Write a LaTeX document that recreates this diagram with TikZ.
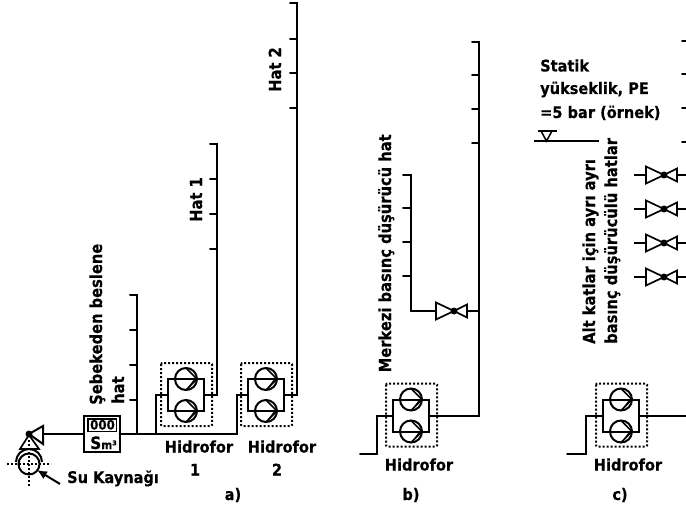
\documentclass[tikz,border=0pt]{standalone}
\usepackage{fontspec}
\setmainfont{DejaVu Sans Bold}[FakeBold=0.35,FakeStretch=0.91]
\newfontfamily\rotfont{DejaVu Sans Bold}[FakeBold=0.35,FakeStretch=0.88]
\usetikzlibrary{arrows.meta}
\tikzset{
  pipe/.style={line width=2pt,line cap=round,line join=miter},
  dotbox/.style={line width=2pt,dash pattern=on 2pt off 2pt},
  dotline/.style={line width=1.7pt,dash pattern=on 1.7pt off 2.3pt},
  lbl/.style={inner sep=0pt,font=\fontsize{16}{18}\selectfont,anchor=base},
  lbll/.style={lbl,anchor=base west},
  rot/.style={lbl,anchor=base west,rotate=90,font=\rotfont\fontsize{16.7}{18}\selectfont},
  pump/.style={circle,draw,line width=2pt,minimum size=22pt,inner sep=0pt,outer sep=0pt},
}
\newcommand{\pumpgroup}[4]{% name, dotted left, inner left, top y
  \begin{scope}[shift={(#2,#4)}]
    \draw[dotbox,rounded corners=1pt] (0,0) rectangle (51,63);
    \coordinate (#1in) at (7,32);
    \coordinate (#1out) at (43,32);
    \draw[pipe] (7,16) rectangle (43,48);
    \foreach \n/\y in {a/16,b/48}{
      \node[pump] (#1\n) at (25,\y) {};
      \draw[line width=1.6pt] (25,\y-11) -- (36,\y) -- (25,\y+11);
      \draw[line width=1.2pt] (34,\y) -- (28,\y+8);
    }
  \end{scope}}
\newcommand{\valve}[2]{% x of left base, y
  \begin{scope}[shift={(#1,#2)}]
    \draw[line width=1.7pt,fill=white] (0,-8.5) -- (18,0) -- (0,8.5) -- cycle;
    \draw[line width=1.7pt,fill=white] (31,-6.5) -- (18,0) -- (31,6.5) -- cycle;
    \fill (18,0) circle (3.5pt);
  \end{scope}}
\begin{document}
\begin{tikzpicture}[x=1pt,y=-1pt]
\useasboundingbox (0,0) rectangle (686,508);
% --- a)
\pumpgroup{p}{161}{168}{363}
\pumpgroup{q}{241}{248}{363}
\coordinate (src) at (29,434);
\coordinate (ra) at (137,434);
\coordinate (j1) at (156,434);
\coordinate (j2) at (237,434);
% source
\draw[dotline] (7,464) -- (51,464);
\draw[dotline] (29,440) -- (29,487);
\draw[line width=2pt] (29,464) circle (10.5pt);
\draw[line width=2pt] (16,462) arc[start angle=180,end angle=0,radius=13pt];
\draw[line width=1.7pt] (20,449) -- (39,449) -- (29,435) -- cycle;
\draw[line width=2pt] (43,426) -- (43,444) -- (src) -- cycle;
\fill (src) circle (3.5pt);
\draw[line width=2pt,-{Latex[length=10pt,width=9pt]}] (60,484) -- (37,470);
% meter
\node[draw,line width=2pt,minimum width=36pt,minimum height=36pt,inner sep=0pt,outer sep=0pt] (m) at (101.5,434) {};
\draw[line width=1.5pt] (88,419) rectangle (116.5,431.5);
\node[lbl,font=\fontsize{13}{14}\selectfont] at (102.5,429.5) {000};
\node[lbl,anchor=base] at (103.5,449) {\fontsize{17}{18}\selectfont S\fontsize{11.5}{12}\selectfont m³};
\draw[pipe] (44,434) -- (m.west);
\draw[pipe] (m.east) -- (j2) |- (qin);
\draw[pipe] (ra) -- (137,295) -- (130,295);
\foreach \y in {330,365,400} \draw[pipe] (137,\y) -- (130,\y);
\draw[pipe] (j1) |- (pin);
\draw[pipe] (pout) -- (217,395) -- (217,144) -- (210,144);
\foreach \y in {179,214,249} \draw[pipe] (217,\y) -- (210,\y);
\draw[pipe] (qout) -- (297,395) -- (297,3.5) -- (290,3.5);
\foreach \y in {39,73,108} \draw[pipe] (297,\y) -- (290,\y);
\node[rot] at (102,405) {Şebekeden beslene};
\node[rot] at (124,404) {hat};
\node[rot] at (202,222) {Hat 1};
\node[rot] at (281,92) {Hat 2};
\node[lbl] at (199,452.5) {Hidrofor};
\node[lbl] at (195,475.5) {1};
\node[lbl] at (282,452.5) {Hidrofor};
\node[lbl] at (277,475.5) {2};
\node[lbll] at (67,483) {Su Kaynağı};
\node[lbl] at (233,500) {a)};
% --- b)
\pumpgroup{r}{386}{393}{383.5}
\coordinate (bs) at (360,454);
\draw[pipe] (bs) -- (377,454) |- (rin);
\draw[pipe] (rout) -- (479,415.5) -- (479,42) -- (472,42);
\foreach \y in {75,109,143} \draw[pipe] (479,\y) -- (472,\y);
\draw[pipe] (411,311) -- (411,175) -- (403,175);
\foreach \y in {208,242,276} \draw[pipe] (411,\y) -- (403,\y);
\draw[pipe] (411,311) -- (436,311);
\draw[pipe] (467,311) -- (479,311);
\valve{436}{311}
\node[rot] at (391,372.5) {Merkezi basınç düşürücü hat};
\node[lbl] at (419,470.5) {Hidrofor};
\node[lbl] at (411,500) {b)};
% --- c)
\pumpgroup{s}{596}{603}{383.5}
\coordinate (cs) at (567,454);
\coordinate (ce) at (686,415.5);
\draw[pipe] (cs) -- (586,454) |- (sin);
\draw[pipe] (sout) -- (ce);
\foreach \y in {41,74,108,142} \draw[pipe] (682,\y) -- (686,\y);
\foreach \y in {175,209,243,277}{
  \draw[line width=1.5pt] (634,\y) -- (646,\y);
  \draw[line width=1.5pt] (677,\y) -- (686,\y);
  \valve{646}{\y}
}
\draw[line width=1.5pt] (534,141) -- (599,141);
\draw[line width=1.5pt] (538,131) -- (557,131);
\draw[line width=1.5pt] (541,131) -- (546.5,141) -- (552,131);
\node[lbll] at (540,71.5) {Statik};
\node[lbll] at (540,94) {yükseklik, PE};
\node[lbll] at (540,118) {=5 bar (örnek)};
\node[rot] at (595,344) {Alt katlar için ayrı ayrı};
\node[rot] at (617,344) {basınç düşürücülü hatlar};
\node[lbl] at (628,470.5) {Hidrofor};
\node[lbl] at (620,500) {c)};
\end{tikzpicture}
\end{document}
